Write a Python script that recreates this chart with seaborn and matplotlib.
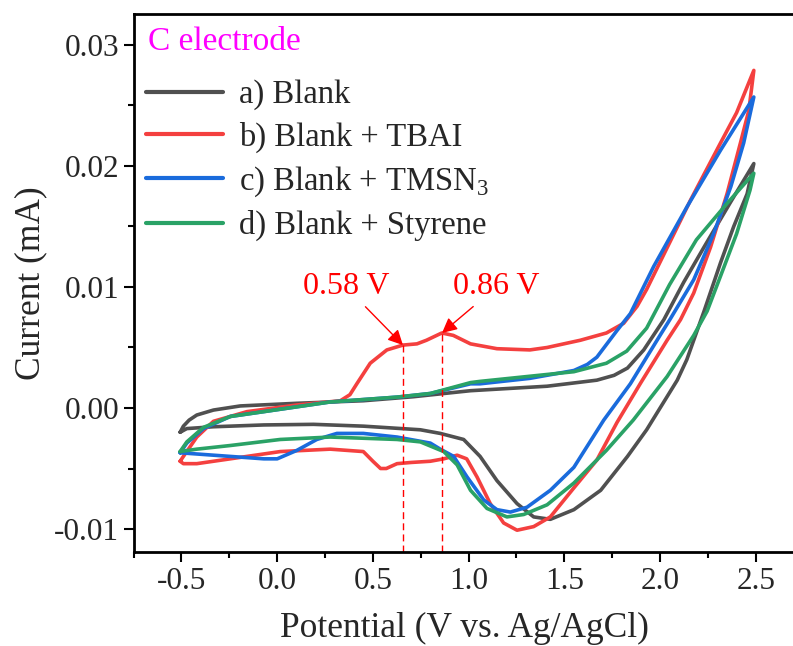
import numpy as np
import pandas as pd
import matplotlib
matplotlib.use("Agg")
import matplotlib.pyplot as plt
from matplotlib.ticker import MultipleLocator, FormatStrFormatter
import seaborn as sns

# CV curves: forward scan -0.5 -> 2.5 V, then back
blank_v = [-0.507, -0.49, -0.46, -0.42, -0.333, -0.193, 0.103, 0.45, 0.71, 1.01, 1.41, 1.67, 1.76, 1.83, 1.915, 2.02, 2.124, 2.23, 2.368, 2.49,
           2.455, 2.385, 2.316, 2.23, 2.14, 2.09, 1.93, 1.83, 1.69, 1.55, 1.427, 1.34, 1.253, 1.148, 1.06, 0.974, 0.852, 0.748, 0.45, 0.19, -0.07, -0.333, -0.472, -0.507]
blank_i = [-0.0020, -0.0015, -0.0010, -0.00058, -0.00017, 0.00017, 0.00039, 0.0006, 0.00093, 0.00143, 0.0018, 0.0023, 0.0027, 0.0033, 0.0048, 0.0073, 0.0104, 0.0133, 0.0170, 0.0202,
           0.0177, 0.0150, 0.0120, 0.0080, 0.0040, 0.0023, -0.0018, -0.0040, -0.0068, -0.0084, -0.0092, -0.0090, -0.0079, -0.0060, -0.0040, -0.0026, -0.0021, -0.0018, -0.0015, -0.00135, -0.0014, -0.00155, -0.0017, -0.0020]

tbai_v = [-0.507, -0.49, -0.42, -0.333, -0.158, 0.103, 0.33, 0.38, 0.416, 0.486, 0.573, 0.657, 0.73, 0.78, 0.86, 0.92, 1.01, 1.148, 1.32, 1.41, 1.584, 1.72, 1.81, 1.88, 1.93, 2.16, 2.316, 2.40, 2.49,
          2.464, 2.42, 2.35, 2.264, 2.176, 2.107, 2.037, 1.90, 1.775, 1.67, 1.55, 1.427, 1.34, 1.253, 1.183, 1.113, 1.044, 0.99, 0.94, 0.87, 0.80, 0.70, 0.626, 0.57, 0.54, 0.50, 0.45, 0.277, 0.016, -0.245, -0.42, -0.49, -0.507]
tbai_i = [-0.0044, -0.0040, -0.0024, -0.0011, -0.0003, 0.00025, 0.0006, 0.0011, 0.0020, 0.0037, 0.0048, 0.0052, 0.0053, 0.0056, 0.0062, 0.0060, 0.0053, 0.0049, 0.0048, 0.0050, 0.0056, 0.0062, 0.0070, 0.0084, 0.0098, 0.0172, 0.0219, 0.0244, 0.0279,
          0.0246, 0.0219, 0.0177, 0.0133, 0.0095, 0.0073, 0.0056, 0.0021, -0.0012, -0.0043, -0.0066, -0.0090, -0.0098, -0.0101, -0.0095, -0.0079, -0.0057, -0.0042, -0.0039, -0.0042, -0.0044, -0.0045, -0.0046, -0.0050, -0.0050, -0.0044, -0.0036, -0.0034, -0.0036, -0.0042, -0.0046, -0.0046, -0.0044]

tmsn_v = [-0.507, -0.472, -0.385, -0.245, -0.07, 0.277, 0.626, 0.80, 1.01, 1.06, 1.32, 1.55, 1.62, 1.67, 1.775, 1.845, 1.967, 2.14, 2.316, 2.49,
          2.437, 2.37, 2.28, 2.176, 2.055, 2.0, 1.845, 1.706, 1.55, 1.427, 1.305, 1.218, 1.148, 1.079, 0.992, 0.922, 0.852, 0.80, 0.626, 0.45, 0.312, 0.207, 0.103, 0.0, -0.07, -0.245, -0.42, -0.507]
tmsn_i = [-0.0037, -0.0029, -0.0017, -0.0007, -0.0003, 0.0005, 0.0009, 0.0012, 0.0020, 0.0020, 0.00245, 0.0031, 0.0036, 0.0042, 0.0064, 0.0078, 0.0117, 0.0166, 0.0213, 0.0257,
          0.0219, 0.0183, 0.0144, 0.0106, 0.0074, 0.0060, 0.0020, -0.0010, -0.0049, -0.0068, -0.0082, -0.0086, -0.0084, -0.0076, -0.0057, -0.0040, -0.0034, -0.0029, -0.0024, -0.0021, -0.0021, -0.0026, -0.0035, -0.0042, -0.0042, -0.0040, -0.0038, -0.0037]

styrene_v = [-0.507, -0.472, -0.385, -0.245, -0.07, 0.277, 0.626, 0.80, 1.01, 1.06, 1.55, 1.72, 1.826, 1.93, 2.05, 2.19, 2.35, 2.49,
             2.47, 2.40, 2.316, 2.246, 2.176, 2.037, 1.86, 1.72, 1.55, 1.41, 1.288, 1.20, 1.096, 1.01, 0.94, 0.87, 0.748, 0.626, 0.277, 0.016, -0.245, -0.42, -0.507]
styrene_i = [-0.0036, -0.0028, -0.0016, -0.0007, -0.0003, 0.0005, 0.0009, 0.0012, 0.0021, 0.0022, 0.0030, 0.0037, 0.0047, 0.0066, 0.0102, 0.0139, 0.0169, 0.0194,
             0.0180, 0.0144, 0.0109, 0.0080, 0.0060, 0.0026, -0.0010, -0.0035, -0.0062, -0.0080, -0.0088, -0.0090, -0.0083, -0.0068, -0.0047, -0.0036, -0.0028, -0.0026, -0.0024, -0.0026, -0.0031, -0.0034, -0.0036]

labels = ['a) Blank', 'b) Blank + TBAI', 'c) Blank + TMSN$_3$', 'd) Blank + Styrene']
colors = ['#505050', '#F4403F', '#1A6BDC', '#2AA266']

peak_x = [0.657, 0.861]
peak_y = [0.0052, 0.0062]
peak_text = ['0.58 V', '0.86 V']
text_x = [0.36, 1.145]
text_y = [0.0100, 0.0100]

frames = []
for lab, v, i in zip(labels, [blank_v, tbai_v, tmsn_v, styrene_v], [blank_i, tbai_i, tmsn_i, styrene_i]):
    frames.append(pd.DataFrame({'Potential': v, 'Current': i, 'Sample': lab}))
df = pd.concat(frames, ignore_index=True)

sns.set_style('ticks')
plt.rcParams['font.family'] = ['Liberation Serif', 'DejaVu Serif']
plt.rcParams['mathtext.fontset'] = 'custom'
plt.rcParams['mathtext.rm'] = 'Liberation Serif'
plt.rcParams['axes.unicode_minus'] = False

fig, ax = plt.subplots(figsize=(7.93, 6.46), dpi=100)
ax.set_position([0.1685, 0.1455, 0.834, 0.8336])

sns.lineplot(data=df, x='Potential', y='Current', hue='Sample', hue_order=labels,
             palette=colors, sort=False, estimator=None, lw=2.6, ax=ax,
             solid_joinstyle='round', solid_capstyle='round')

ymin, ymax = -0.0119, 0.0326
ax.vlines(peak_x, ymin, peak_y, colors='red', linestyles=(0, (5, 3)), lw=1)
for px, py, t, tx, ty in zip(peak_x, peak_y, peak_text, text_x, text_y):
    ax.annotate(t, xy=(px, py), xytext=(tx, ty), color='red', fontsize=23,
                ha='center', va='center',
                arrowprops=dict(arrowstyle='-|>,head_length=0.6,head_width=0.3',
                                color='red', lw=1, mutation_scale=15, shrinkA=2, shrinkB=0))

ax.set_xlim(-0.75, 2.705)
ax.set_ylim(ymin, ymax)
ax.xaxis.set_major_locator(MultipleLocator(0.5))
ax.xaxis.set_minor_locator(MultipleLocator(0.25))
ax.yaxis.set_major_locator(MultipleLocator(0.01))
ax.yaxis.set_minor_locator(MultipleLocator(0.005))
ax.xaxis.set_major_formatter(FormatStrFormatter('%.1f'))
ax.yaxis.set_major_formatter(FormatStrFormatter('%.2f'))
ax.tick_params(which='major', direction='out', length=7, width=1.5, labelsize=22.5, color='black')
ax.tick_params(which='minor', direction='out', length=4, width=1.5, color='black')
for s in ax.spines.values():
    s.set_linewidth(2)
    s.set_color('black')

ax.set_xlabel('Potential (V vs. Ag/AgCl)', fontsize=25.5, labelpad=12)
ax.set_ylabel('Current (mA)', fontsize=25.5, labelpad=5)

ax.text(0.022, 0.947, 'C electrode', color='#FF00FF', fontsize=24,
        transform=ax.transAxes, ha='left', va='center')

handles, labs = ax.get_legend_handles_labels()
leg = ax.legend(handles, labs, loc='upper left', bbox_to_anchor=(0.019, 0.8776),
                frameon=False, fontsize=23.5, handlelength=2.35, handletextpad=0.5,
                labelspacing=0.35, borderaxespad=0, borderpad=0)
for h in leg.get_lines():
    h.set_linewidth(3)

fig.savefig('out.png', dpi=100)
